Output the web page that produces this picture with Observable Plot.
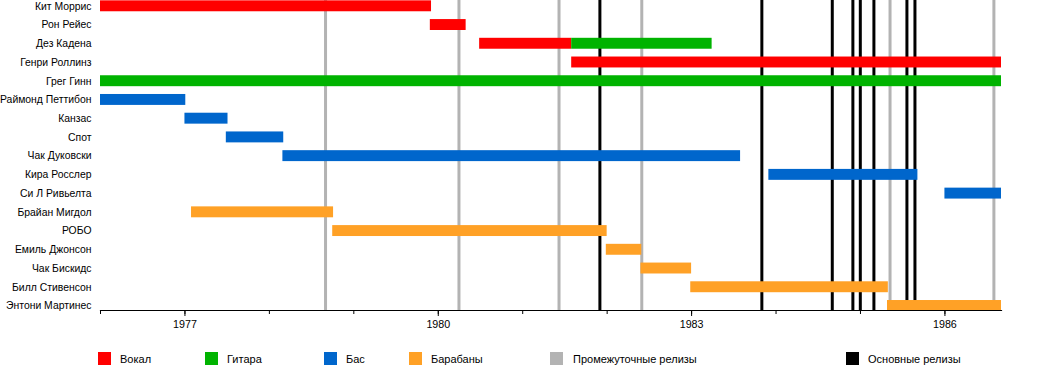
<!DOCTYPE html>
<html>
<head>
<meta charset="utf-8">
<script src="https://cdn.jsdelivr.net/npm/d3@7"></script>
<script src="https://cdn.jsdelivr.net/npm/@observablehq/plot@0.6"></script>
<style>
  html, body { margin: 0; padding: 0; background: #fff; }
  #chart { position: relative; width: 1050px; }
  #legend { position: relative; width: 1050px; height: 30px; font-family: "Liberation Sans", Arial, sans-serif; font-size: 11px; color: #000; }
  .sw { position: absolute; top: 12px; width: 13px; height: 13px; }
  .lt { position: absolute; top: 12px; line-height: 14px; }
</style>
</head>
<body>
<div id="chart"></div>
<div id="legend"></div>
<script>
const members = ["Кит Моррис","Рон Рейес","Дез Кадена","Генри Роллинз","Грег Гинн","Раймонд Петтибон","Канзас","Спот","Чак Дуковски","Кира Росслер","Си Л Ривьелта","Брайан Мигдол","РОБО","Емиль Джонсон","Чак Бискидс","Билл Стивенсон","Энтони Мартинес"];
const roles = ["Вокал","Гитара","Бас","Барабаны"];
const roleColors = ["#ff0000","#00b300","#0066cc","#ffa126"];

const spanMember = ["Кит Моррис","Рон Рейес","Дез Кадена","Дез Кадена","Генри Роллинз","Грег Гинн","Раймонд Петтибон","Канзас","Спот","Чак Дуковски","Кира Росслер","Си Л Ривьелта","Брайан Мигдол","РОБО","Емиль Джонсон","Чак Бискидс","Билл Стивенсон","Энтони Мартинес"];
const spanRole   = ["Вокал","Вокал","Вокал","Гитара","Вокал","Гитара","Бас","Бас","Бас","Бас","Бас","Бас","Барабаны","Барабаны","Барабаны","Барабаны","Барабаны","Барабаны"];
const spanStart  = [1976, 1979.906, 1980.49, 1981.58, 1981.58, 1976, 1976, 1977.0, 1977.49, 1978.16, 1983.915, 1986.0, 1977.078, 1978.75, 1981.99, 1982.40, 1982.99, 1985.32];
const spanEnd    = [1979.92, 1980.33, 1981.58, 1983.243, 1986.67, 1986.67, 1977.01, 1977.51, 1978.17, 1983.58, 1985.68, 1986.67, 1978.76, 1982.0, 1982.41, 1983.0, 1985.33, 1986.67];

const minorReleases = [1978.665, 1980.245, 1981.43, 1982.41, 1985.35, 1986.58];
const majorReleases = [1981.914, 1983.832, 1984.666, 1984.91, 1984.998, 1985.159, 1985.55, 1985.645];

const startYear = 1976, endYear = 1986.67;
const majorTicks = [1977, 1980, 1983, 1986];
const minorTicks = [1976, 1977, 1978, 1979, 1980, 1981, 1982, 1983, 1984, 1985, 1986];

const legendLabels = ["Вокал","Гитара","Бас","Барабаны","Промежуточные релизы","Основные релизы"];
const legendColors = ["#ff0000","#00b300","#0066cc","#ffa126","#b3b3b3","#000000"];

const spans = spanMember.map((m, i) => ({member: m, role: spanRole[i], start: spanStart[i], end: spanEnd[i]}));

const step = 18.73;
const c0 = 5.8;
const chart = Plot.plot({
  width: 1050,
  height: 340,
  marginLeft: 100,
  marginRight: 49,
  marginTop: 0,
  marginBottom: 30,
  style: {fontFamily: "'Liberation Sans', Arial, sans-serif", fontSize: "10.4px", color: "#000", background: "#fff", overflow: "visible"},
  x: {domain: [startYear, endYear], axis: null},
  y: {domain: members, range: [c0 - step / 2, c0 + step * 16.5], padding: 0, round: false, axis: null},
  color: {domain: roles, range: roleColors},
  marks: [
    Plot.ruleX(minorReleases, {x: d => d, stroke: "#b3b3b3", strokeWidth: 3}),
    Plot.ruleX(majorReleases, {x: d => d, stroke: "#000", strokeWidth: 3}),
    Plot.barX(spans, {x1: "start", x2: "end", y: "member", fill: "role", insetTop: 3.9, insetBottom: 3.9}),
    Plot.frame({anchor: "bottom", stroke: "#000", strokeWidth: 1.2}),
    Plot.axisX(minorTicks, {tickSize: 4, tickFormat: () => "", stroke: "#000", label: null}),
    Plot.axisX(majorTicks, {tickSize: 6, tickPadding: 4, tickFormat: d => String(d), fill: "#000", stroke: "#000", fontSize: 10.7, label: null}),
    Plot.axisY({tickSize: 0, tickPadding: 9, fill: "#000", fontSize: 10.4, label: null})
  ]
});
document.getElementById("chart").appendChild(chart);

const swLeft = [98, 205, 324, 409, 550, 846];
const txLeft = [120, 227, 346, 431, 573, 868];
const legend = document.getElementById("legend");
legendLabels.forEach((lab, i) => {
  const s = document.createElement("div");
  s.className = "sw";
  s.style.left = swLeft[i] + "px";
  s.style.background = legendColors[i];
  legend.appendChild(s);
  const t = document.createElement("div");
  t.className = "lt";
  t.style.left = txLeft[i] + "px";
  t.textContent = lab;
  legend.appendChild(t);
});
</script>
</body>
</html>
